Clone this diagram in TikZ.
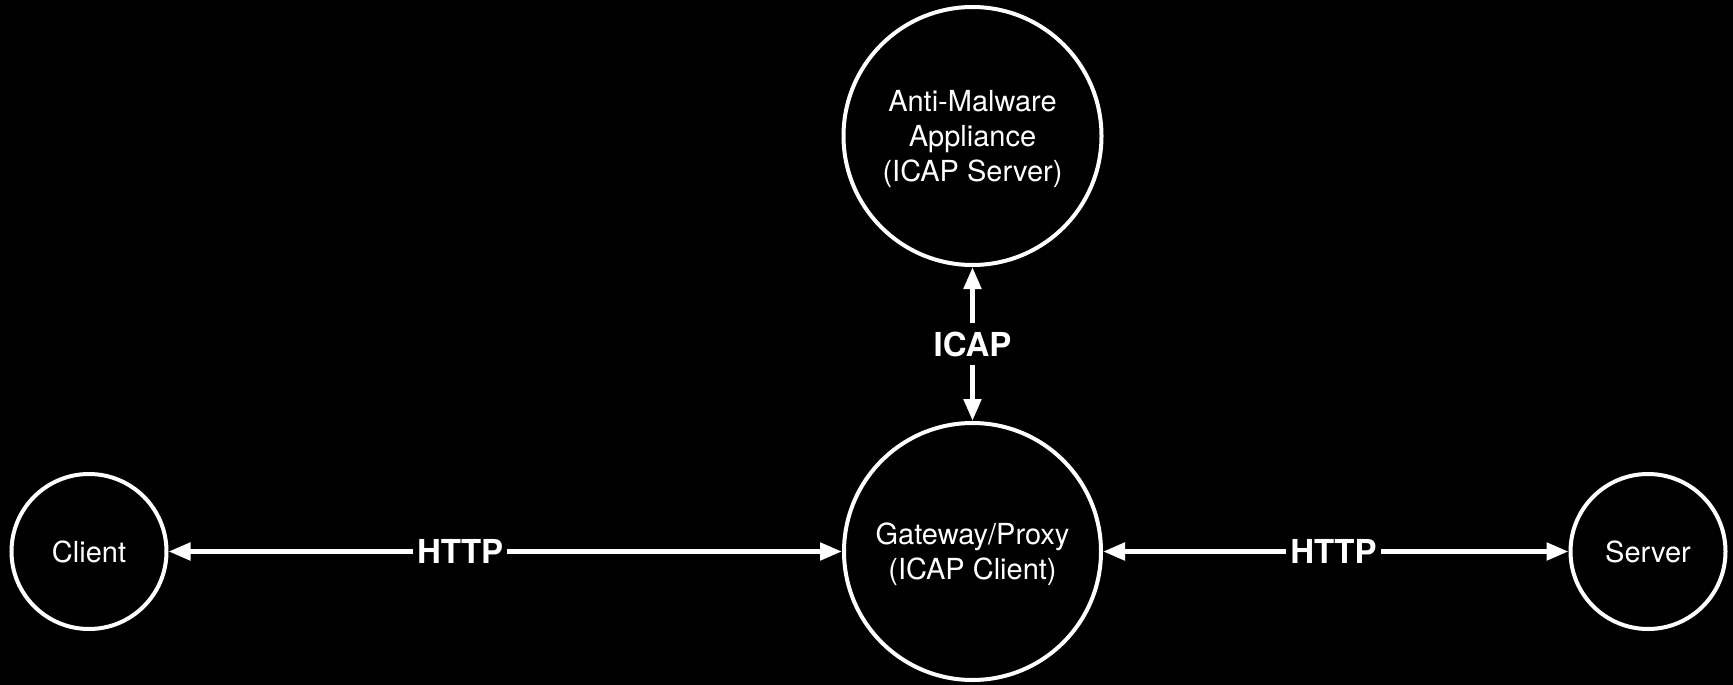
\documentclass[tikz,border=0pt]{standalone}
\usepackage{fontspec}
\setmainfont{TeX Gyre Heros}
\usetikzlibrary{arrows.meta}
\newcommand\mytoppad{\rule{0pt}{28pt}}
\tikzset{
  ent/.style={circle, draw=white, line width=4pt, fill=black, text=white, align=center,
    font=\fontsize{29}{35}\selectfont, inner sep=0pt},
  link/.style={white, line width=5pt, {Triangle[length=22pt,width=17pt]}-{Triangle[length=22pt,width=17pt]}},
  proto/.style={fill=black, text=white, font=\fontsize{33}{38}\selectfont\bfseries, inner xsep=4pt, inner ysep=9pt}
}
\begin{document}
\begin{tikzpicture}[x=1pt,y=-1pt]
\fill[black] (0,0) rectangle (1733,685);
\useasboundingbox (0,0) rectangle (1733,685);
\node[ent, minimum size=155pt] (client) at (89,551.5) {Client};
\node[ent, minimum size=257pt] (gw) at (972.5,551.5) {\mytoppad Gateway/Proxy\\(ICAP Client)};
\node[ent, minimum size=258pt] (am) at (972.5,136) {\mytoppad Anti-Malware\\Appliance\\(ICAP Server)};
\node[ent, minimum size=155pt] (server) at (1648,551.5) {Server};
\draw[link] (client) -- node[proto, pos=0.433] {HTTP} (gw);
\draw[link] (gw) -- node[proto, pos=0.495] {HTTP} (server);
\draw[link] (am) -- node[proto] {ICAP} (gw);
\end{tikzpicture}
\end{document}
